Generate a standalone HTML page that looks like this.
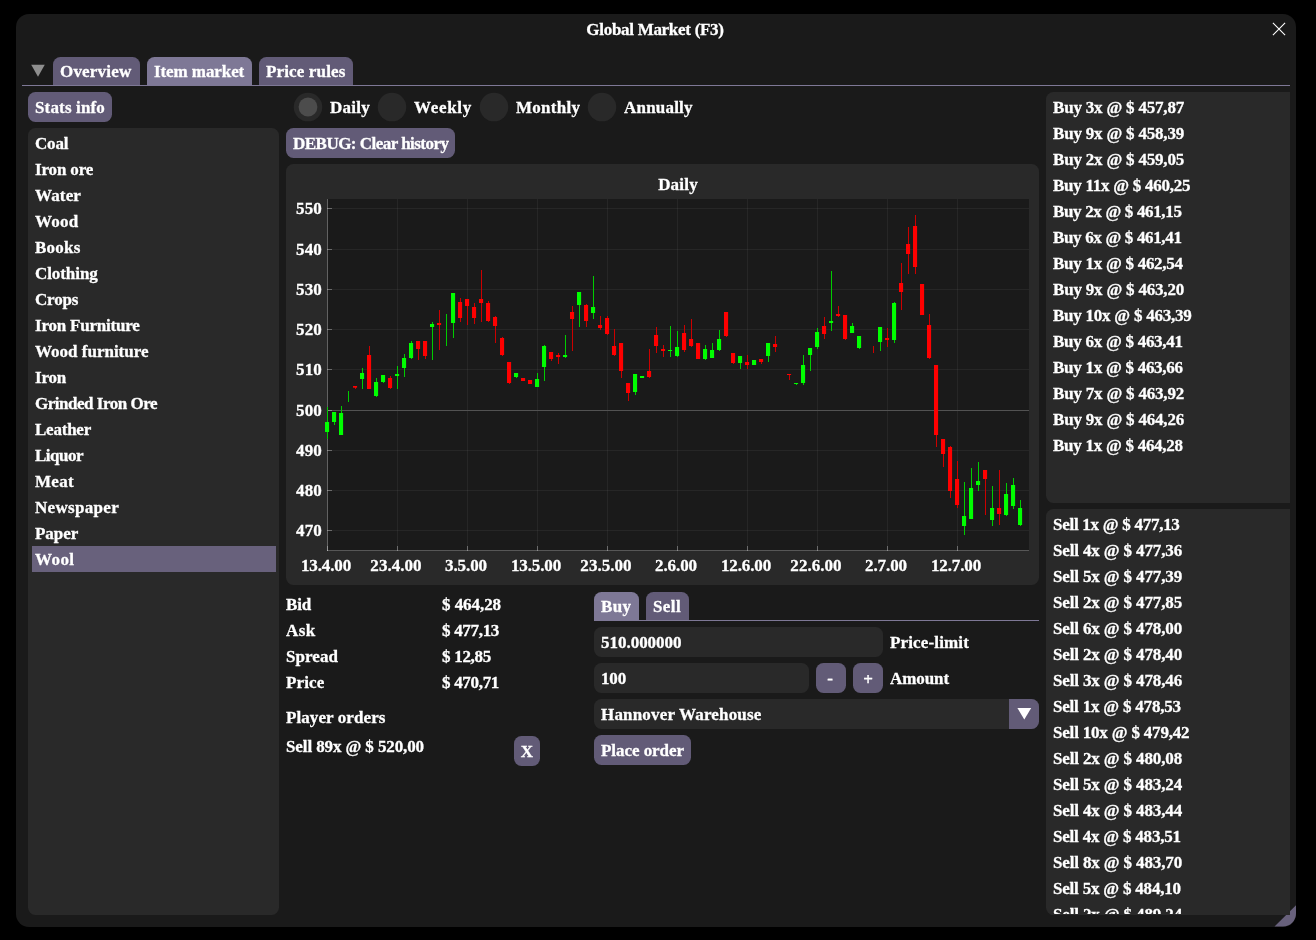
<!DOCTYPE html>
<html><head><meta charset="utf-8"><title>Global Market</title><style>
html,body{margin:0;padding:0;background:#000;}
body{width:1316px;height:940px;position:relative;overflow:hidden;font-family:"Liberation Serif",serif;}
div{position:absolute;box-sizing:border-box;}
.abs{position:absolute;}
.t{color:#fff;-webkit-text-stroke:0.3px #fff;will-change:transform;font-weight:bold;font-size:17.0px;line-height:20px;white-space:pre;}
.win{background:#1a1a1a;border-radius:13px;}
.panel{background:#292929;border-radius:7.5px;}
.inp{background:#292929;border-radius:7.5px;}
.btn{background:#625b77;border-radius:7.5px;}
.tab{background:#625b77;border-radius:7.5px 7.5px 0 0;}
.tab.act{background:#7e7896;}
.tabline{background:#7e7896;}
.sel{background:#68617c;}
.radio{background:#292929;border-radius:50%;}
.radiodot{background:#555555;border-radius:50%;}
</style></head><body>
<div class="win" style="left:16px;top:14px;width:1280px;height:912.5px;"></div>
<svg class="abs" style="left:1270px;top:900px" width="26" height="27" viewBox="0 0 26 27"><path d="M26 5.2 L26 13.6 A13 13 0 0 1 13 26.6 L4.5 26.6 Z" fill="#68617c"/></svg>
<div class="t " style="top:20.26px;left:505.06px;width:300px;text-align:center;letter-spacing:-0.289px;">Global Market (F3)</div>
<svg class="abs" style="left:1270px;top:20px" width="18" height="18" viewBox="0 0 18 18"><path d="M2.9 2.9L15.1 15.1M15.1 2.9L2.9 15.1" stroke="#fff" stroke-width="1.1" fill="none"/></svg>
<svg class="abs" style="left:28px;top:60px" width="20" height="20" viewBox="0 0 20 20"><path d="M3.2 4.8L16.8 4.8L10 16.8Z" fill="#8e8e8e"/></svg>
<div class="tab" style="left:53px;top:57px;width:87px;height:28px;"></div>
<div class="t " style="top:62.26px;left:60.3px;letter-spacing:0.193px;">Overview</div>
<div class="tab act" style="left:147px;top:57px;width:105px;height:28px;"></div>
<div class="t " style="top:62.26px;left:153.6px;letter-spacing:-0.083px;">Item market</div>
<div class="tab" style="left:259px;top:57px;width:94px;height:28px;"></div>
<div class="t " style="top:62.26px;left:265.6px;letter-spacing:0.146px;">Price rules</div>
<div class="tabline" style="left:22px;top:85px;width:1268px;height:1px;"></div>
<div class="btn" style="left:28px;top:92px;width:84px;height:30px;"></div>
<div class="t " style="top:98.26px;left:35.3px;letter-spacing:0.152px;">Stats info</div>
<div class="panel" style="left:28px;top:128px;width:251px;height:787px;"></div>
<div class="t " style="top:134.26px;left:35px;letter-spacing:-0.200px;">Coal</div>
<div class="t " style="top:160.26px;left:35px;letter-spacing:-0.143px;">Iron ore</div>
<div class="t " style="top:186.26px;left:35px;letter-spacing:0.134px;">Water</div>
<div class="t " style="top:212.26px;left:35px;letter-spacing:0.242px;">Wood</div>
<div class="t " style="top:238.26px;left:35px;letter-spacing:0.256px;">Books</div>
<div class="t " style="top:264.26px;left:35px;letter-spacing:-0.075px;">Clothing</div>
<div class="t " style="top:290.26px;left:35px;letter-spacing:-0.179px;">Crops</div>
<div class="t " style="top:316.26px;left:35px;letter-spacing:-0.217px;">Iron Furniture</div>
<div class="t " style="top:342.26px;left:35px;">Wood furniture</div>
<div class="t " style="top:368.26px;left:35px;letter-spacing:-0.203px;">Iron</div>
<div class="t " style="top:394.26px;left:35px;letter-spacing:-0.482px;">Grinded Iron Ore</div>
<div class="t " style="top:420.26px;left:35px;letter-spacing:-0.228px;">Leather</div>
<div class="t " style="top:446.26px;left:35px;letter-spacing:-0.505px;">Liquor</div>
<div class="t " style="top:472.26px;left:35px;letter-spacing:0.309px;">Meat</div>
<div class="t " style="top:498.26px;left:35px;letter-spacing:0.309px;">Newspaper</div>
<div class="t " style="top:524.26px;left:35px;letter-spacing:-0.047px;">Paper</div>
<div class="sel" style="left:32px;top:546px;width:244px;height:26px;"></div>
<div class="t " style="top:550.26px;left:35px;letter-spacing:0.426px;">Wool</div>
<div class="t " style="top:98.26px;left:329.8px;letter-spacing:0.253px;">Daily</div>
<div class="t " style="top:98.26px;left:414.3px;letter-spacing:0.659px;">Weekly</div>
<div class="t " style="top:98.26px;left:516px;letter-spacing:0.265px;">Monthly</div>
<div class="t " style="top:98.26px;left:624.1px;letter-spacing:0.201px;">Annually</div>
<svg class="abs" style="left:286px;top:88px" width="340" height="38" viewBox="286 88 340 38"><circle cx="308" cy="107.1" r="14.25" fill="#292929"/><circle cx="308" cy="107" r="9.4" fill="#4c4c4c"/><circle cx="392" cy="107.1" r="14.25" fill="#292929"/><circle cx="494" cy="107.1" r="14.25" fill="#292929"/><circle cx="602" cy="107.1" r="14.25" fill="#292929"/></svg>
<div class="btn" style="left:286px;top:128px;width:169px;height:30px;"></div>
<div class="t " style="top:134.26px;left:292.8px;letter-spacing:-0.520px;">DEBUG: Clear history</div>
<div class="panel" style="left:286px;top:164px;width:753px;height:421px;"></div>
<div class="t " style="top:175.26px;left:527.60px;width:300px;text-align:center;letter-spacing:0.193px;">Daily</div>
<svg class="abs" style="left:286px;top:164px" width="753" height="421" viewBox="286 164 753 421" shape-rendering="crispEdges"><rect x="328" y="199" width="701" height="351.5" fill="#1a1a1a"/><rect x="397" y="199" width="1" height="351" fill="rgba(255,255,255,0.055)"/><rect x="467" y="199" width="1" height="351" fill="rgba(255,255,255,0.055)"/><rect x="537" y="199" width="1" height="351" fill="rgba(255,255,255,0.055)"/><rect x="607" y="199" width="1" height="351" fill="rgba(255,255,255,0.055)"/><rect x="677" y="199" width="1" height="351" fill="rgba(255,255,255,0.055)"/><rect x="747" y="199" width="1" height="351" fill="rgba(255,255,255,0.055)"/><rect x="817" y="199" width="1" height="351" fill="rgba(255,255,255,0.055)"/><rect x="887" y="199" width="1" height="351" fill="rgba(255,255,255,0.055)"/><rect x="957" y="199" width="1" height="351" fill="rgba(255,255,255,0.055)"/><rect x="328" y="530" width="701" height="1" fill="rgba(255,255,255,0.055)"/><rect x="328" y="490" width="701" height="1" fill="rgba(255,255,255,0.055)"/><rect x="328" y="450" width="701" height="1" fill="rgba(255,255,255,0.055)"/><rect x="328" y="410" width="701" height="1" fill="#525252"/><rect x="328" y="369" width="701" height="1" fill="rgba(255,255,255,0.055)"/><rect x="328" y="329" width="701" height="1" fill="rgba(255,255,255,0.055)"/><rect x="328" y="289" width="701" height="1" fill="rgba(255,255,255,0.055)"/><rect x="328" y="249" width="701" height="1" fill="rgba(255,255,255,0.055)"/><rect x="328" y="208" width="701" height="1" fill="rgba(255,255,255,0.055)"/><rect x="327" y="199" width="1" height="352" fill="rgba(255,255,255,0.27)"/><rect x="327" y="550" width="702" height="1" fill="rgba(255,255,255,0.27)"/><rect x="327" y="546" width="1" height="5" fill="rgba(255,255,255,0.32)"/><rect x="397" y="546" width="1" height="5" fill="rgba(255,255,255,0.32)"/><rect x="467" y="546" width="1" height="5" fill="rgba(255,255,255,0.32)"/><rect x="537" y="546" width="1" height="5" fill="rgba(255,255,255,0.32)"/><rect x="607" y="546" width="1" height="5" fill="rgba(255,255,255,0.32)"/><rect x="677" y="546" width="1" height="5" fill="rgba(255,255,255,0.32)"/><rect x="747" y="546" width="1" height="5" fill="rgba(255,255,255,0.32)"/><rect x="817" y="546" width="1" height="5" fill="rgba(255,255,255,0.32)"/><rect x="887" y="546" width="1" height="5" fill="rgba(255,255,255,0.32)"/><rect x="957" y="546" width="1" height="5" fill="rgba(255,255,255,0.32)"/><rect x="327" y="530" width="5" height="1" fill="rgba(255,255,255,0.32)"/><rect x="327" y="490" width="5" height="1" fill="rgba(255,255,255,0.32)"/><rect x="327" y="450" width="5" height="1" fill="rgba(255,255,255,0.32)"/><rect x="327" y="410" width="5" height="1" fill="rgba(255,255,255,0.32)"/><rect x="327" y="369" width="5" height="1" fill="rgba(255,255,255,0.32)"/><rect x="327" y="329" width="5" height="1" fill="rgba(255,255,255,0.32)"/><rect x="327" y="289" width="5" height="1" fill="rgba(255,255,255,0.32)"/><rect x="327" y="249" width="5" height="1" fill="rgba(255,255,255,0.32)"/><rect x="327" y="208" width="5" height="1" fill="rgba(255,255,255,0.32)"/><rect x="327" y="407" width="1" height="32" fill="#00cc00"/><rect x="325" y="422" width="4.1" height="10" fill="#00ff00" shape-rendering="auto"/><rect x="334" y="412" width="1" height="13" fill="#00cc00"/><rect x="332" y="412" width="4.1" height="10" fill="#00ff00" shape-rendering="auto"/><rect x="341" y="406" width="1" height="29" fill="#00cc00"/><rect x="339" y="413" width="4.1" height="22" fill="#00ff00" shape-rendering="auto"/><rect x="348" y="391" width="1" height="11" fill="#00cc00"/><rect x="355" y="386" width="1" height="3" fill="#cc0000"/><rect x="353" y="386" width="4.1" height="1.7" fill="#ff0000" shape-rendering="auto"/><rect x="362" y="368" width="1" height="21" fill="#00cc00"/><rect x="360" y="373" width="4.1" height="6" fill="#00ff00" shape-rendering="auto"/><rect x="369" y="346" width="1" height="43" fill="#cc0000"/><rect x="367" y="355" width="4.1" height="34" fill="#ff0000" shape-rendering="auto"/><rect x="376" y="378" width="1" height="19" fill="#00cc00"/><rect x="374" y="382" width="4.1" height="14" fill="#00ff00" shape-rendering="auto"/><rect x="383" y="375" width="1" height="8" fill="#00cc00"/><rect x="381" y="375" width="4.1" height="7" fill="#00ff00" shape-rendering="auto"/><rect x="390" y="376" width="1" height="13" fill="#cc0000"/><rect x="388" y="378" width="4.1" height="10" fill="#ff0000" shape-rendering="auto"/><rect x="397" y="366" width="1" height="23" fill="#00cc00"/><rect x="395" y="374" width="4.1" height="2" fill="#00ff00" shape-rendering="auto"/><rect x="404" y="354" width="1" height="23" fill="#00cc00"/><rect x="402" y="358" width="4.1" height="10" fill="#00ff00" shape-rendering="auto"/><rect x="411" y="341" width="1" height="18" fill="#00cc00"/><rect x="409" y="343" width="4.1" height="15" fill="#00ff00" shape-rendering="auto"/><rect x="418" y="341" width="1" height="19" fill="#cc0000"/><rect x="416" y="341" width="4.1" height="8" fill="#ff0000" shape-rendering="auto"/><rect x="425" y="341" width="1" height="18" fill="#cc0000"/><rect x="423" y="341" width="4.1" height="15" fill="#ff0000" shape-rendering="auto"/><rect x="432" y="322" width="1" height="38" fill="#00cc00"/><rect x="430" y="324" width="4.1" height="3" fill="#00ff00" shape-rendering="auto"/><rect x="439" y="310" width="1" height="40" fill="#cc0000"/><rect x="437" y="323" width="4.1" height="2" fill="#ff0000" shape-rendering="auto"/><rect x="446" y="314" width="1" height="32" fill="#00cc00"/><rect x="453" y="293" width="1" height="45" fill="#00cc00"/><rect x="451" y="293" width="4.1" height="30" fill="#00ff00" shape-rendering="auto"/><rect x="460" y="298" width="1" height="24" fill="#cc0000"/><rect x="458" y="302" width="4.1" height="16" fill="#ff0000" shape-rendering="auto"/><rect x="467" y="299" width="1" height="26" fill="#cc0000"/><rect x="465" y="299" width="4.1" height="7" fill="#ff0000" shape-rendering="auto"/><rect x="474" y="303" width="1" height="21" fill="#cc0000"/><rect x="472" y="307" width="4.1" height="11" fill="#ff0000" shape-rendering="auto"/><rect x="481" y="270" width="1" height="52" fill="#cc0000"/><rect x="479" y="299" width="4.1" height="4" fill="#ff0000" shape-rendering="auto"/><rect x="488" y="301" width="1" height="21" fill="#cc0000"/><rect x="486" y="303" width="4.1" height="18" fill="#ff0000" shape-rendering="auto"/><rect x="495" y="316" width="1" height="27" fill="#cc0000"/><rect x="493" y="317" width="4.1" height="9" fill="#ff0000" shape-rendering="auto"/><rect x="502" y="337" width="1" height="19" fill="#cc0000"/><rect x="500" y="338" width="4.1" height="17" fill="#ff0000" shape-rendering="auto"/><rect x="509" y="362" width="1" height="22" fill="#cc0000"/><rect x="507" y="362" width="4.1" height="21" fill="#ff0000" shape-rendering="auto"/><rect x="516" y="373" width="1" height="5" fill="#00cc00"/><rect x="514" y="373" width="4.1" height="4" fill="#00ff00" shape-rendering="auto"/><rect x="523" y="378" width="1" height="3" fill="#cc0000"/><rect x="521" y="378" width="4.1" height="3" fill="#ff0000" shape-rendering="auto"/><rect x="530" y="380" width="1" height="4" fill="#cc0000"/><rect x="528" y="380" width="4.1" height="4" fill="#ff0000" shape-rendering="auto"/><rect x="537" y="373" width="1" height="14" fill="#00cc00"/><rect x="535" y="379" width="4.1" height="8" fill="#00ff00" shape-rendering="auto"/><rect x="544" y="345" width="1" height="36" fill="#00cc00"/><rect x="542" y="346" width="4.1" height="21" fill="#00ff00" shape-rendering="auto"/><rect x="551" y="352" width="1" height="9" fill="#cc0000"/><rect x="549" y="352" width="4.1" height="7" fill="#ff0000" shape-rendering="auto"/><rect x="558" y="353" width="1" height="11" fill="#cc0000"/><rect x="556" y="355" width="4.1" height="2" fill="#ff0000" shape-rendering="auto"/><rect x="565" y="335" width="1" height="23" fill="#00cc00"/><rect x="563" y="355" width="4.1" height="2" fill="#00ff00" shape-rendering="auto"/><rect x="572" y="306" width="1" height="45" fill="#cc0000"/><rect x="570" y="312" width="4.1" height="7" fill="#ff0000" shape-rendering="auto"/><rect x="579" y="292" width="1" height="35" fill="#00cc00"/><rect x="577" y="292" width="4.1" height="13" fill="#00ff00" shape-rendering="auto"/><rect x="586" y="304" width="1" height="23" fill="#cc0000"/><rect x="584" y="305" width="4.1" height="16" fill="#ff0000" shape-rendering="auto"/><rect x="593" y="276" width="1" height="43" fill="#00cc00"/><rect x="591" y="307" width="4.1" height="6" fill="#00ff00" shape-rendering="auto"/><rect x="600" y="316" width="1" height="14" fill="#cc0000"/><rect x="598" y="325" width="4.1" height="3" fill="#ff0000" shape-rendering="auto"/><rect x="607" y="316" width="1" height="19" fill="#cc0000"/><rect x="605" y="318" width="4.1" height="16" fill="#ff0000" shape-rendering="auto"/><rect x="614" y="329" width="1" height="27" fill="#cc0000"/><rect x="612" y="346" width="4.1" height="9" fill="#ff0000" shape-rendering="auto"/><rect x="621" y="343" width="1" height="35" fill="#cc0000"/><rect x="619" y="343" width="4.1" height="28" fill="#ff0000" shape-rendering="auto"/><rect x="628" y="383" width="1" height="18" fill="#cc0000"/><rect x="626" y="383" width="4.1" height="10" fill="#ff0000" shape-rendering="auto"/><rect x="635" y="374" width="1" height="21" fill="#00cc00"/><rect x="633" y="374" width="4.1" height="18" fill="#00ff00" shape-rendering="auto"/><rect x="642" y="376" width="1" height="2" fill="#00cc00"/><rect x="640" y="376" width="4.1" height="2" fill="#00ff00" shape-rendering="auto"/><rect x="649" y="349" width="1" height="29" fill="#cc0000"/><rect x="647" y="371" width="4.1" height="6" fill="#ff0000" shape-rendering="auto"/><rect x="656" y="327" width="1" height="26" fill="#cc0000"/><rect x="654" y="335" width="4.1" height="11" fill="#ff0000" shape-rendering="auto"/><rect x="663" y="345" width="1" height="12" fill="#cc0000"/><rect x="661" y="349" width="4.1" height="2" fill="#ff0000" shape-rendering="auto"/><rect x="670" y="326" width="1" height="31" fill="#00cc00"/><rect x="668" y="350" width="4.1" height="1" fill="#00ff00" shape-rendering="auto"/><rect x="677" y="331" width="1" height="26" fill="#00cc00"/><rect x="675" y="347" width="4.1" height="9" fill="#00ff00" shape-rendering="auto"/><rect x="684" y="325" width="1" height="27" fill="#cc0000"/><rect x="682" y="333" width="4.1" height="17" fill="#ff0000" shape-rendering="auto"/><rect x="691" y="319" width="1" height="28" fill="#cc0000"/><rect x="689" y="339" width="4.1" height="7" fill="#ff0000" shape-rendering="auto"/><rect x="698" y="343" width="1" height="16" fill="#cc0000"/><rect x="696" y="343" width="4.1" height="16" fill="#ff0000" shape-rendering="auto"/><rect x="705" y="345" width="1" height="15" fill="#00cc00"/><rect x="703" y="349" width="4.1" height="10" fill="#00ff00" shape-rendering="auto"/><rect x="712" y="343" width="1" height="15" fill="#00cc00"/><rect x="710" y="350" width="4.1" height="8" fill="#00ff00" shape-rendering="auto"/><rect x="719" y="330" width="1" height="21" fill="#00cc00"/><rect x="717" y="339" width="4.1" height="11" fill="#00ff00" shape-rendering="auto"/><rect x="726" y="312" width="1" height="25" fill="#cc0000"/><rect x="724" y="312" width="4.1" height="24" fill="#ff0000" shape-rendering="auto"/><rect x="733" y="353" width="1" height="11" fill="#cc0000"/><rect x="731" y="353" width="4.1" height="10" fill="#ff0000" shape-rendering="auto"/><rect x="740" y="356" width="1" height="13" fill="#00cc00"/><rect x="738" y="356" width="4.1" height="7" fill="#00ff00" shape-rendering="auto"/><rect x="747" y="355" width="1" height="14" fill="#cc0000"/><rect x="745" y="362" width="4.1" height="3" fill="#ff0000" shape-rendering="auto"/><rect x="754" y="360" width="1" height="5" fill="#00cc00"/><rect x="752" y="360" width="4.1" height="5" fill="#00ff00" shape-rendering="auto"/><rect x="761" y="359" width="1" height="5" fill="#cc0000"/><rect x="759" y="359" width="4.1" height="3" fill="#ff0000" shape-rendering="auto"/><rect x="768" y="343" width="1" height="19" fill="#00cc00"/><rect x="766" y="343" width="4.1" height="13" fill="#00ff00" shape-rendering="auto"/><rect x="775" y="336" width="1" height="16" fill="#cc0000"/><rect x="773" y="344" width="4.1" height="3" fill="#ff0000" shape-rendering="auto"/><rect x="789" y="374" width="1" height="6" fill="#cc0000"/><rect x="787" y="374" width="4.1" height="1" fill="#ff0000" shape-rendering="auto"/><rect x="796" y="383" width="1" height="2" fill="#00cc00"/><rect x="794" y="383" width="4.1" height="1" fill="#00ff00" shape-rendering="auto"/><rect x="803" y="355" width="1" height="30" fill="#00cc00"/><rect x="801" y="365" width="4.1" height="18" fill="#00ff00" shape-rendering="auto"/><rect x="810" y="348" width="1" height="23" fill="#00cc00"/><rect x="808" y="348" width="4.1" height="7" fill="#00ff00" shape-rendering="auto"/><rect x="817" y="328" width="1" height="21" fill="#00cc00"/><rect x="815" y="332" width="4.1" height="15" fill="#00ff00" shape-rendering="auto"/><rect x="824" y="317" width="1" height="22" fill="#cc0000"/><rect x="822" y="326" width="4.1" height="8" fill="#ff0000" shape-rendering="auto"/><rect x="831" y="271" width="1" height="60" fill="#00cc00"/><rect x="829" y="321" width="4.1" height="2" fill="#00ff00" shape-rendering="auto"/><rect x="838" y="306" width="1" height="11" fill="#cc0000"/><rect x="836" y="314" width="4.1" height="2" fill="#ff0000" shape-rendering="auto"/><rect x="845" y="315" width="1" height="25" fill="#cc0000"/><rect x="843" y="315" width="4.1" height="24" fill="#ff0000" shape-rendering="auto"/><rect x="852" y="323" width="1" height="10" fill="#00cc00"/><rect x="850" y="326" width="4.1" height="7" fill="#00ff00" shape-rendering="auto"/><rect x="859" y="336" width="1" height="13" fill="#00cc00"/><rect x="857" y="336" width="4.1" height="12" fill="#00ff00" shape-rendering="auto"/><rect x="873" y="346" width="1" height="7" fill="#cc0000"/><rect x="880" y="327" width="1" height="24" fill="#00cc00"/><rect x="878" y="327" width="4.1" height="15" fill="#00ff00" shape-rendering="auto"/><rect x="887" y="328" width="1" height="19" fill="#cc0000"/><rect x="885" y="338" width="4.1" height="2" fill="#ff0000" shape-rendering="auto"/><rect x="894" y="302" width="1" height="41" fill="#00cc00"/><rect x="892" y="303" width="4.1" height="37" fill="#00ff00" shape-rendering="auto"/><rect x="901" y="263" width="1" height="47" fill="#cc0000"/><rect x="899" y="283" width="4.1" height="9" fill="#ff0000" shape-rendering="auto"/><rect x="908" y="227" width="1" height="47" fill="#cc0000"/><rect x="906" y="244" width="4.1" height="10" fill="#ff0000" shape-rendering="auto"/><rect x="915" y="215" width="1" height="59" fill="#cc0000"/><rect x="913" y="226" width="4.1" height="41" fill="#ff0000" shape-rendering="auto"/><rect x="922" y="284" width="1" height="31" fill="#cc0000"/><rect x="920" y="284" width="4.1" height="31" fill="#ff0000" shape-rendering="auto"/><rect x="929" y="314" width="1" height="45" fill="#cc0000"/><rect x="927" y="325" width="4.1" height="33" fill="#ff0000" shape-rendering="auto"/><rect x="936" y="365" width="1" height="82" fill="#cc0000"/><rect x="934" y="365" width="4.1" height="70" fill="#ff0000" shape-rendering="auto"/><rect x="943" y="439" width="1" height="28" fill="#cc0000"/><rect x="941" y="439" width="4.1" height="15" fill="#ff0000" shape-rendering="auto"/><rect x="950" y="446" width="1" height="52" fill="#cc0000"/><rect x="948" y="447" width="4.1" height="44" fill="#ff0000" shape-rendering="auto"/><rect x="957" y="461" width="1" height="47" fill="#cc0000"/><rect x="955" y="479" width="4.1" height="26" fill="#ff0000" shape-rendering="auto"/><rect x="964" y="482" width="1" height="53" fill="#00cc00"/><rect x="962" y="516" width="4.1" height="10" fill="#00ff00" shape-rendering="auto"/><rect x="971" y="468" width="1" height="51" fill="#00cc00"/><rect x="969" y="488" width="4.1" height="31" fill="#00ff00" shape-rendering="auto"/><rect x="978" y="462" width="1" height="29" fill="#00cc00"/><rect x="976" y="481" width="4.1" height="4" fill="#00ff00" shape-rendering="auto"/><rect x="985" y="470" width="1" height="45" fill="#cc0000"/><rect x="983" y="470" width="4.1" height="9" fill="#ff0000" shape-rendering="auto"/><rect x="992" y="486" width="1" height="40" fill="#00cc00"/><rect x="990" y="508" width="4.1" height="12" fill="#00ff00" shape-rendering="auto"/><rect x="999" y="470" width="1" height="55" fill="#cc0000"/><rect x="997" y="508" width="4.1" height="6" fill="#ff0000" shape-rendering="auto"/><rect x="1006" y="483" width="1" height="33" fill="#00cc00"/><rect x="1004" y="494" width="4.1" height="21" fill="#00ff00" shape-rendering="auto"/><rect x="1013" y="478" width="1" height="31" fill="#00cc00"/><rect x="1011" y="485" width="4.1" height="21" fill="#00ff00" shape-rendering="auto"/><rect x="1020" y="500" width="1" height="26" fill="#00cc00"/><rect x="1018" y="508" width="4.1" height="17" fill="#00ff00" shape-rendering="auto"/></svg>
<div class="t " style="top:521.26px;left:22.17px;width:300px;text-align:right;letter-spacing:0.167px;">470</div>
<div class="t " style="top:481.26px;left:22.17px;width:300px;text-align:right;letter-spacing:0.167px;">480</div>
<div class="t " style="top:441.26px;left:22.17px;width:300px;text-align:right;letter-spacing:0.167px;">490</div>
<div class="t " style="top:401.26px;left:22.17px;width:300px;text-align:right;letter-spacing:0.167px;">500</div>
<div class="t " style="top:360.26px;left:22.17px;width:300px;text-align:right;letter-spacing:0.167px;">510</div>
<div class="t " style="top:320.26px;left:22.17px;width:300px;text-align:right;letter-spacing:0.167px;">520</div>
<div class="t " style="top:280.26px;left:22.17px;width:300px;text-align:right;letter-spacing:0.167px;">530</div>
<div class="t " style="top:240.26px;left:22.17px;width:300px;text-align:right;letter-spacing:0.167px;">540</div>
<div class="t " style="top:199.26px;left:22.17px;width:300px;text-align:right;letter-spacing:0.167px;">550</div>
<div class="t " style="top:556.26px;left:176.23px;width:300px;text-align:center;letter-spacing:-0.143px;">13.4.00</div>
<div class="t " style="top:556.26px;left:246.32px;width:300px;text-align:center;letter-spacing:0.043px;">23.4.00</div>
<div class="t " style="top:556.26px;left:316.26px;width:300px;text-align:center;letter-spacing:-0.083px;">3.5.00</div>
<div class="t " style="top:556.26px;left:386.23px;width:300px;text-align:center;letter-spacing:-0.143px;">13.5.00</div>
<div class="t " style="top:556.26px;left:456.32px;width:300px;text-align:center;letter-spacing:0.043px;">23.5.00</div>
<div class="t " style="top:556.26px;left:526.26px;width:300px;text-align:center;letter-spacing:-0.083px;">2.6.00</div>
<div class="t " style="top:556.26px;left:596.23px;width:300px;text-align:center;letter-spacing:-0.143px;">12.6.00</div>
<div class="t " style="top:556.26px;left:666.32px;width:300px;text-align:center;letter-spacing:0.043px;">22.6.00</div>
<div class="t " style="top:556.26px;left:736.26px;width:300px;text-align:center;letter-spacing:-0.083px;">2.7.00</div>
<div class="t " style="top:556.26px;left:806.23px;width:300px;text-align:center;letter-spacing:-0.143px;">12.7.00</div>
<div class="t " style="top:595.26px;left:285.8px;letter-spacing:-0.177px;">Bid</div>
<div class="t " style="top:595.26px;left:441.8px;letter-spacing:-0.062px;">$ 464,28</div>
<div class="t " style="top:621.26px;left:285.8px;letter-spacing:0.380px;">Ask</div>
<div class="t " style="top:621.26px;left:441.8px;letter-spacing:-0.312px;">$ 477,13</div>
<div class="t " style="top:647.26px;left:285.8px;letter-spacing:0.057px;">Spread</div>
<div class="t " style="top:647.26px;left:441.8px;letter-spacing:-0.286px;">$ 12,85</div>
<div class="t " style="top:673.26px;left:285.8px;letter-spacing:0.150px;">Price</div>
<div class="t " style="top:673.26px;left:441.8px;letter-spacing:-0.312px;">$ 470,71</div>
<div class="t " style="top:708.26px;left:285.8px;letter-spacing:0.088px;">Player orders</div>
<div class="t " style="top:737.26px;left:285.8px;letter-spacing:-0.106px;">Sell 89x @ $ 520,00</div>
<div class="btn" style="left:514px;top:736px;width:26px;height:30px;"></div>
<div class="t " style="top:742.26px;left:376.90px;width:300px;text-align:center;">X</div>
<div class="tab act" style="left:594px;top:592px;width:45px;height:28px;"></div>
<div class="t " style="top:597.26px;left:600.8px;letter-spacing:0.401px;">Buy</div>
<div class="tab" style="left:646px;top:592px;width:43px;height:28px;"></div>
<div class="t " style="top:597.26px;left:652.8px;letter-spacing:0.387px;">Sell</div>
<div class="tabline" style="left:594px;top:620px;width:445px;height:1px;"></div>
<div class="inp" style="left:594px;top:627px;width:289px;height:30px;"></div>
<div class="t " style="top:633.26px;left:600.8px;letter-spacing:-0.025px;">510.000000</div>
<div class="t " style="top:633.26px;left:889.8px;letter-spacing:0.145px;">Price-limit</div>
<div class="inp" style="left:594px;top:663px;width:215px;height:30px;"></div>
<div class="t " style="top:669.26px;left:600.8px;letter-spacing:-0.167px;">100</div>
<div class="btn" style="left:816px;top:663px;width:30px;height:30px;"></div>
<div class="t " style="top:669.26px;left:680.40px;width:300px;text-align:center;">-</div>
<div class="btn" style="left:853px;top:663px;width:30px;height:30px;"></div>
<div class="t " style="top:670.26px;left:717.80px;width:300px;text-align:center;">+</div>
<div class="t " style="top:669.26px;left:889.8px;letter-spacing:-0.086px;">Amount</div>
<div class="inp" style="left:594px;top:699px;width:445px;height:30px;"></div>
<div class="t " style="top:705.26px;left:600.8px;letter-spacing:0.179px;">Hannover Warehouse</div>
<div class="btn" style="left:1009px;top:699px;width:30px;height:30px;border-radius:0 7.5px 7.5px 0;"></div>
<svg class="abs" style="left:1009px;top:699px" width="30" height="30" viewBox="0 0 30 30"><path d="M8.4 9L22.2 9L15.3 20.6Z" fill="#fff"/></svg>
<div class="btn" style="left:594px;top:735px;width:97px;height:30px;"></div>
<div class="t " style="top:741.26px;left:600.8px;letter-spacing:-0.050px;">Place order</div>
<div class="panel" style="left:1046px;top:92px;width:244px;height:410.5px;border-radius:7.5px 0 0 7.5px;"></div>
<div class="t " style="top:98.26px;left:1052.8px;letter-spacing:-0.198px;">Buy 3x @ $ 457,87</div>
<div class="t " style="top:124.26px;left:1052.8px;letter-spacing:-0.198px;">Buy 9x @ $ 458,39</div>
<div class="t " style="top:150.26px;left:1052.8px;letter-spacing:-0.198px;">Buy 2x @ $ 459,05</div>
<div class="t " style="top:176.26px;left:1052.8px;letter-spacing:-0.262px;">Buy 11x @ $ 460,25</div>
<div class="t " style="top:202.26px;left:1052.8px;letter-spacing:-0.339px;">Buy 2x @ $ 461,15</div>
<div class="t " style="top:228.26px;left:1052.8px;letter-spacing:-0.339px;">Buy 6x @ $ 461,41</div>
<div class="t " style="top:254.26px;left:1052.8px;letter-spacing:-0.268px;">Buy 1x @ $ 462,54</div>
<div class="t " style="top:280.26px;left:1052.8px;letter-spacing:-0.198px;">Buy 9x @ $ 463,20</div>
<div class="t " style="top:306.26px;left:1052.8px;letter-spacing:-0.248px;">Buy 10x @ $ 463,39</div>
<div class="t " style="top:332.26px;left:1052.8px;letter-spacing:-0.268px;">Buy 6x @ $ 463,41</div>
<div class="t " style="top:358.26px;left:1052.8px;letter-spacing:-0.268px;">Buy 1x @ $ 463,66</div>
<div class="t " style="top:384.26px;left:1052.8px;letter-spacing:-0.198px;">Buy 7x @ $ 463,92</div>
<div class="t " style="top:410.26px;left:1052.8px;letter-spacing:-0.198px;">Buy 9x @ $ 464,26</div>
<div class="t " style="top:436.26px;left:1052.8px;letter-spacing:-0.268px;">Buy 1x @ $ 464,28</div>
<div class="panel" style="left:1046px;top:509px;width:244px;height:406px;border-radius:7.5px 0 0 7.5px;overflow:hidden">
<div class="t " style="top:6.26px;left:6.8px;letter-spacing:-0.273px;">Sell 1x @ $ 477,13</div>
<div class="t " style="top:32.26px;left:6.8px;letter-spacing:-0.140px;">Sell 4x @ $ 477,36</div>
<div class="t " style="top:58.26px;left:6.8px;letter-spacing:-0.140px;">Sell 5x @ $ 477,39</div>
<div class="t " style="top:84.26px;left:6.8px;letter-spacing:-0.140px;">Sell 2x @ $ 477,85</div>
<div class="t " style="top:110.26px;left:6.8px;letter-spacing:-0.140px;">Sell 6x @ $ 478,00</div>
<div class="t " style="top:136.26px;left:6.8px;letter-spacing:-0.140px;">Sell 2x @ $ 478,40</div>
<div class="t " style="top:162.26px;left:6.8px;letter-spacing:-0.140px;">Sell 3x @ $ 478,46</div>
<div class="t " style="top:188.26px;left:6.8px;letter-spacing:-0.206px;">Sell 1x @ $ 478,53</div>
<div class="t " style="top:214.26px;left:6.8px;letter-spacing:-0.190px;">Sell 10x @ $ 479,42</div>
<div class="t " style="top:240.26px;left:6.8px;letter-spacing:-0.140px;">Sell 2x @ $ 480,08</div>
<div class="t " style="top:266.26px;left:6.8px;letter-spacing:-0.140px;">Sell 5x @ $ 483,24</div>
<div class="t " style="top:292.26px;left:6.8px;letter-spacing:-0.140px;">Sell 4x @ $ 483,44</div>
<div class="t " style="top:318.26px;left:6.8px;letter-spacing:-0.206px;">Sell 4x @ $ 483,51</div>
<div class="t " style="top:344.26px;left:6.8px;letter-spacing:-0.140px;">Sell 8x @ $ 483,70</div>
<div class="t " style="top:370.26px;left:6.8px;letter-spacing:-0.206px;">Sell 5x @ $ 484,10</div>
<div class="t " style="top:396.26px;left:6.8px;letter-spacing:-0.140px;">Sell 2x @ $ 489,24</div>
<div style="position:absolute;left:0;top:404.5px;width:244px;height:2px;background:#292929"></div>
</div>
</body></html>
